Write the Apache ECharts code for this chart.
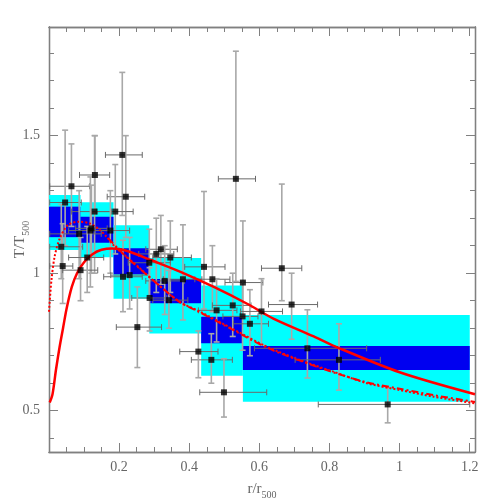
<!DOCTYPE html>
<html>
<head>
<meta charset="utf-8">
<script src="https://cdn.jsdelivr.net/npm/echarts@6/dist/echarts.min.js"></script>
<style>
  html, body { margin: 0; padding: 0; background: #fff; }
  #chartBox { width: 501px; height: 501px; }
</style>
</head>
<body>
<div id="chartBox"></div>
<script>
// data points: r/r500, T/T500 and their error ranges
const pointR = [0.209, 0.131, 0.064, 0.219, 0.046, 0.130, 0.189, 0.086, 0.118, 0.121, 0.175, 0.035, 0.306, 0.319, 0.346,
  0.039, 0.090, 0.109, 0.211, 0.230, 0.286, 0.330, 0.382, 0.287, 0.342, 0.252, 0.442, 0.466, 0.553, 0.664,
  0.692, 0.478, 0.524, 0.552, 0.573, 0.606, 0.737, 0.827, 0.463, 0.499, 0.966, 0.426, 0.533]
const pointT = [1.430, 1.357, 1.316, 1.278, 1.257, 1.224, 1.224, 1.143, 1.155, 1.163, 1.155, 1.096, 1.070, 1.087, 1.057,
  1.026, 1.011, 1.057, 0.987, 0.993, 1.038, 0.972, 0.978, 0.910, 0.902, 0.804, 1.023, 0.978, 0.966, 1.018,
  0.886, 0.865, 0.883, 0.843, 0.816, 0.861, 0.727, 0.685, 0.685, 0.567, 0.523, 0.715, 1.343]
const rLow = [0.161, 0.087, 0.002, 0.166, 0.002, 0.064, 0.135, 0.002, 0.056, 0.076, 0.130, 0.002, 0.256, 0.276, 0.296,
  0.002, 0.039, 0.056, 0.156, 0.176, 0.226, 0.276, 0.326, 0.236, 0.296, 0.192, 0.387, 0.416, 0.502, 0.606,
  0.626, 0.426, 0.466, 0.496, 0.526, 0.546, 0.586, 0.702, 0.406, 0.430, 0.768, 0.373, 0.483]
const rHigh = [0.266, 0.173, 0.116, 0.273, 0.092, 0.178, 0.240, 0.149, 0.176, 0.166, 0.230, 0.096, 0.356, 0.366, 0.406,
  0.068, 0.139, 0.156, 0.266, 0.286, 0.346, 0.386, 0.436, 0.336, 0.396, 0.321, 0.502, 0.516, 0.610, 0.721,
  0.766, 0.536, 0.576, 0.596, 0.626, 0.666, 0.906, 0.945, 0.523, 0.621, 1.200, 0.482, 0.589]
const tLow = [1.21, 1.22, 1.17, 1.13, 1.10, 1.00, 1.07, 0.98, 0.95, 1.00, 1.00, 0.98, 0.93, 0.96, 0.93,
  0.89, 0.90, 0.93, 0.86, 0.87, 0.91, 0.85, 0.83, 0.79, 0.80, 0.657, 0.87, 0.86, 0.84, 0.90,
  0.76, 0.75, 0.77, 0.72, 0.70, 0.74, 0.619, 0.575, 0.60, 0.477, 0.456, 0.62, 0.97]
const tHigh = [1.73, 1.50, 1.47, 1.50, 1.52, 1.50, 1.395, 1.30, 1.35, 1.32, 1.30, 1.25, 1.20, 1.21, 1.19,
  1.18, 1.13, 1.17, 1.12, 1.13, 1.16, 1.10, 1.176, 1.02, 1.01, 0.95, 1.297, 1.10, 1.19, 1.324,
  1.00, 0.98, 1.00, 0.97, 0.94, 0.98, 0.867, 0.816, 0.78, 0.689, 0.584, 0.79, 1.807]

// binned profile: edges in r, outer (cyan) and inner (blue) ranges in T
const bandEdges = [0, 0.09, 0.184, 0.286, 0.434, 0.553, 1.2]
const cyanLow = [1.084, 1.058, 0.907, 0.781, 0.627, 0.533]
const cyanHigh = [1.284, 1.258, 1.174, 1.055, 0.955, 0.848]
const blueLow = [1.131, 1.111, 0.996, 0.891, 0.745, 0.648]
const blueHigh = [1.242, 1.205, 1.091, 0.979, 0.842, 0.735]

// model curves
const solidR = [0.002, 0.01, 0.02, 0.03, 0.04, 0.05, 0.065, 0.08, 0.1, 0.125, 0.15, 0.18, 0.2, 0.23, 0.29, 0.375, 0.47, 0.565, 0.64, 0.755, 0.81, 1.0, 1.215]
const solidT = [0.53, 0.56, 0.65, 0.73, 0.80, 0.87, 0.95, 1.0, 1.04, 1.07, 1.085, 1.09, 1.088, 1.078, 1.048, 1.005, 0.95, 0.889, 0.835, 0.77, 0.737, 0.64, 0.56]
const dottedR = [0.0, 0.007, 0.016, 0.031, 0.054, 0.083, 0.116, 0.145, 0.164, 0.188, 0.221, 0.259, 0.307, 0.373, 0.431, 0.526, 0.621, 0.716, 0.811, 0.907, 1.002, 1.097, 1.215]
const dottedT = [0.86, 0.975, 1.06, 1.127, 1.175, 1.187, 1.181, 1.157, 1.133, 1.096, 1.06, 1.018, 0.963, 0.896, 0.86, 0.796, 0.733, 0.684, 0.642, 0.60, 0.575, 0.551, 0.527]
const dashR = [0.17, 0.22, 0.26, 0.31, 0.373, 0.43, 0.526, 0.62, 0.716, 0.81, 0.907, 1.0, 1.1, 1.215]
const dashT = [1.125, 1.06, 1.015, 0.96, 0.895, 0.858, 0.793, 0.73, 0.682, 0.64, 0.603, 0.58, 0.556, 0.532]

// axis ticks
const xMinorTicks = [0.05, 0.1, 0.15, 0.2, 0.25, 0.3, 0.35, 0.4, 0.45, 0.5, 0.55, 0.6, 0.65, 0.7, 0.75, 0.8, 0.85, 0.9, 0.95, 1, 1.05, 1.1, 1.15, 1.2]
const xMajorTicks = [0.2, 0.4, 0.6, 0.8, 1, 1.2]
const yMinorTicks = [0.4, 0.5, 0.6, 0.7, 0.8, 0.9, 1, 1.1, 1.2, 1.3, 1.4, 1.5, 1.6, 1.7, 1.8]
const yMajorTicks = [0.5, 1, 1.5]

const frameColor = '#808080'
const textColor = '#666'
const serif = 'Liberation Serif, DejaVu Serif, serif'

function makeAxis(kind, position, ticks, len, withLabels) {
  const isX = kind === 'x'
  const axis = {
    type: 'value',
    position: position,
    min: 0,
    max: isX ? 1.215 : 1.895,
    splitLine: { show: false },
    axisLine: { show: true, onZero: false, lineStyle: { color: frameColor, width: 1.3 } },
    axisTick: { show: true, inside: true, length: len, customValues: ticks, lineStyle: { color: frameColor, width: 1 } },
    axisLabel: { show: false }
  }
  if (!isX) axis.min = 0.35
  if (withLabels) {
    axis.axisLabel = {
      show: true,
      customValues: ticks,
      color: textColor,
      fontFamily: serif,
      fontSize: 14,
      margin: isX ? 8 : 9,
      formatter: v => String(v)
    }
  }
  return axis
}

const nameRich = {
  a: { fontFamily: serif, fontSize: 15, color: textColor, verticalAlign: 'top', lineHeight: 18 },
  s: { fontFamily: serif, fontSize: 10, color: textColor, verticalAlign: 'top', padding: [8, 0, 0, 0], lineHeight: 18 }
}

const xAxes = [
  makeAxis('x', 'bottom', xMajorTicks, 9, true),
  makeAxis('x', 'bottom', xMinorTicks, 5, false),
  makeAxis('x', 'top', xMajorTicks, 9, false),
  makeAxis('x', 'top', xMinorTicks, 5, false)
]
Object.assign(xAxes[0], {
  name: '{a|r/r}{s|500}',
  nameLocation: 'middle',
  nameGap: 30,
  nameMoveOverlap: false,
  nameTextStyle: { rich: nameRich }
})
const yAxes = [
  makeAxis('y', 'left', yMajorTicks, 9, true),
  makeAxis('y', 'left', yMinorTicks, 5, false),
  makeAxis('y', 'right', yMajorTicks, 9, false),
  makeAxis('y', 'right', yMinorTicks, 5, false)
]
Object.assign(yAxes[0], {
  name: '{a|T/T}{s|500}',
  nameLocation: 'middle',
  nameGap: 18,
  nameRotate: 90,
  nameMoveOverlap: false,
  nameTextStyle: { rich: nameRich }
})

const bandData = []
for (let i = 0; i < cyanLow.length; i++) {
  bandData.push([bandEdges[i], bandEdges[i + 1], cyanLow[i], cyanHigh[i], blueLow[i], blueHigh[i]])
}
const errData = pointR.map((r, i) => [r, pointT[i], rLow[i], rHigh[i], tLow[i], tHigh[i]])

function renderBand(params, api) {
  const x0 = api.value(0)
  const x1 = api.value(1)
  const c1 = api.coord([x0, api.value(3)])
  const c2 = api.coord([x1, api.value(2)])
  const b1 = api.coord([x0, api.value(5)])
  const b2 = api.coord([x1, api.value(4)])
  return {
    type: 'group',
    children: [
      { type: 'rect', shape: { x: c1[0], y: c1[1], width: c2[0] - c1[0], height: c2[1] - c1[1] }, style: { fill: '#00ffff' } },
      { type: 'rect', shape: { x: b1[0], y: b1[1], width: b2[0] - b1[0], height: b2[1] - b1[1] }, style: { fill: '#0000f0' } }
    ]
  }
}

function renderErr(params, api) {
  const r = api.value(0)
  const t = api.value(1)
  const left = api.coord([api.value(2), t])
  const right = api.coord([api.value(3), t])
  const bot = api.coord([r, api.value(4)])
  const top = api.coord([r, api.value(5)])
  const cap = 3
  const vStyle = { stroke: '#a8a8a8', lineWidth: 1.6 }
  const hStyle = { stroke: '#6a6a6a', lineWidth: 1 }
  return {
    type: 'group',
    children: [
      { type: 'line', shape: { x1: top[0], y1: top[1], x2: bot[0], y2: bot[1] }, style: vStyle },
      { type: 'line', shape: { x1: top[0] - cap, y1: top[1], x2: top[0] + cap, y2: top[1] }, style: vStyle },
      { type: 'line', shape: { x1: bot[0] - cap, y1: bot[1], x2: bot[0] + cap, y2: bot[1] }, style: vStyle },
      { type: 'line', shape: { x1: left[0], y1: left[1], x2: right[0], y2: right[1] }, style: hStyle },
      { type: 'line', shape: { x1: left[0], y1: left[1] - cap, x2: left[0], y2: left[1] + cap }, style: hStyle },
      { type: 'line', shape: { x1: right[0], y1: right[1] - cap, x2: right[0], y2: right[1] + cap }, style: hStyle }
    ]
  }
}

const chart = echarts.init(document.getElementById('chartBox'), null, { renderer: 'canvas' })
chart.setOption({
  animation: false,
  backgroundColor: '#fff',
  grid: { left: 49, right: 26, top: 27, bottom: 49, containLabel: false, outerBoundsMode: 'none' },
  xAxis: xAxes,
  yAxis: yAxes,
  series: [
    {
      type: 'custom',
      renderItem: renderBand,
      data: bandData,
      clip: true,
      z: 1
    },
    {
      type: 'custom',
      renderItem: renderErr,
      data: errData,
      clip: true,
      z: 2
    },
    {
      type: 'line',
      data: solidR.map((r, i) => [r, solidT[i]]),
      smooth: 0.3,
      showSymbol: false,
      lineStyle: { color: '#ff0000', width: 2.5 },
      z: 3
    },
    {
      type: 'line',
      data: dottedR.map((r, i) => [r, dottedT[i]]),
      smooth: 0.3,
      showSymbol: false,
      lineStyle: { color: '#ff0000', width: 2, type: [2, 2] },
      z: 3
    },
    {
      type: 'line',
      data: dashR.map((r, i) => [r, dashT[i]]),
      smooth: 0.3,
      showSymbol: false,
      lineStyle: { color: '#ff0000', width: 2, type: [7, 3, 2, 3] },
      z: 3
    },
    {
      type: 'scatter',
      data: pointR.map((r, i) => [r, pointT[i]]),
      symbol: 'rect',
      symbolSize: 6,
      itemStyle: { color: '#000' },
      z: 4
    }
  ]
})
</script>
</body>
</html>
